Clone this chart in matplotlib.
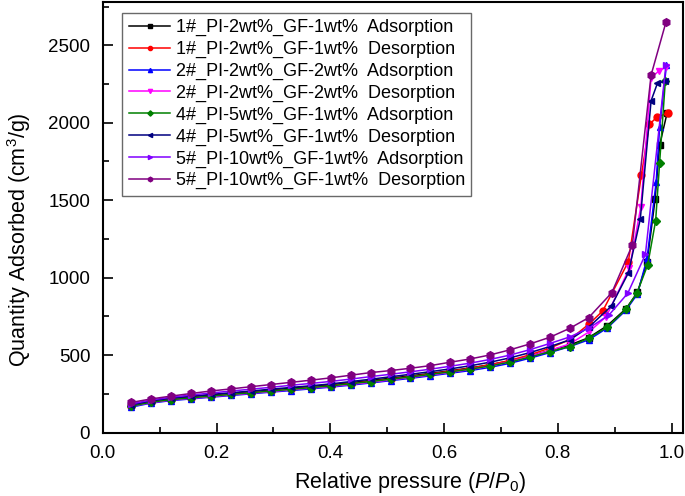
import matplotlib
matplotlib.use("Agg")
import matplotlib.pyplot as plt
from matplotlib.ticker import MultipleLocator

plt.rcParams['font.family'] = ['Liberation Sans', 'DejaVu Sans']
plt.rcParams['mathtext.fontset'] = 'custom'
plt.rcParams['mathtext.rm'] = 'Liberation Sans'
plt.rcParams['mathtext.it'] = 'Liberation Sans:italic'

# common low-pressure grid
x_low = [0.05, 0.085, 0.12, 0.155, 0.19, 0.226, 0.261, 0.296, 0.331, 0.366, 0.401, 0.436,
         0.471, 0.506, 0.541, 0.576, 0.611, 0.646, 0.681, 0.716, 0.751, 0.786, 0.821]

# 1# adsorption (black)
s1a_x = x_low + [0.854, 0.887, 0.920, 0.940, 0.957, 0.971, 0.979, 0.992]
s1a_y = [176, 202, 219, 231, 242, 253, 264, 275, 286, 297, 308, 322, 336, 351, 366, 382, 399, 417,
         438, 463, 494, 530, 565, 612, 690, 800, 905, 1100, 1506, 1856, 2061]
# 1# desorption (red)
s1d_x = x_low + [0.855, 0.879, 0.924, 0.947, 0.961, 0.975, 0.994]
s1d_y = [172, 197, 214, 225, 236, 247, 258, 269, 280, 291, 302, 316, 330, 345, 361, 378, 396, 415,
         438, 466, 502, 545, 600, 701, 785, 1103, 1663, 1990, 2039, 2061]
# 2# adsorption (blue)
s2a_x = x_low + [0.854, 0.887, 0.920, 0.940, 0.957, 0.973, 0.979, 0.991]
s2a_y = [164, 190, 206, 217, 228, 239, 250, 261, 271, 282, 293, 306, 320, 335, 350, 366, 383, 400,
         421, 447, 480, 516, 555, 598, 675, 790, 895, 1125, 1620, 1974, 2372]
# 2# desorption (magenta)
s2d_x = x_low + [0.855, 0.885, 0.926, 0.946, 0.964, 0.978, 0.991]
s2d_y = [170, 193, 210, 221, 232, 243, 254, 265, 276, 287, 298, 311, 325, 340, 356, 372, 389, 407,
         430, 458, 492, 530, 572, 650, 748, 1061, 1458, 2290, 2336, 2361]
# 4# adsorption (green)
s4a_x = x_low + [0.854, 0.887, 0.920, 0.939, 0.958, 0.972, 0.979, 0.989]
s4a_y = [170, 196, 212, 224, 235, 246, 257, 268, 279, 290, 301, 315, 329, 344, 359, 375, 392, 409,
         430, 455, 487, 522, 555, 609, 680, 796, 899, 1082, 1368, 1742, 2269]
# 4# desorption (navy)
s4d_x = x_low + [0.855, 0.894, 0.924, 0.945, 0.964, 0.975, 0.989]
s4d_y = [178, 205, 222, 234, 246, 257, 268, 280, 291, 302, 314, 329, 344, 360, 376, 393, 411, 431,
         454, 482, 516, 555, 598, 682, 816, 1030, 1377, 2142, 2254, 2269]
# 5# adsorption (violet)
s5a_x = x_low + [0.855, 0.890, 0.923, 0.954, 0.990]
s5a_y = [185, 210, 228, 242, 255, 268, 280, 292, 305, 317, 330, 345, 361, 376, 392, 409, 428, 448,
         472, 500, 535, 575, 617, 675, 759, 899, 1150, 2370]
# 5# desorption (purple)
s5d_x = x_low + [0.854, 0.895, 0.931, 0.964, 0.990]
s5d_y = [194, 217, 235, 252, 268, 282, 296, 310, 324, 338, 353, 370, 387, 400, 415, 432, 454, 475,
         501, 534, 572, 615, 673, 741, 903, 1211, 2308, 2648]

labels = ["1#_PI-2wt%_GF-1wt%  Adsorption", "1#_PI-2wt%_GF-1wt%  Desorption",
          "2#_PI-2wt%_GF-2wt%  Adsorption", "2#_PI-2wt%_GF-2wt%  Desorption",
          "4#_PI-5wt%_GF-1wt%  Adsorption", "4#_PI-5wt%_GF-1wt%  Desorption",
          "5#_PI-10wt%_GF-1wt%  Adsorption", "5#_PI-10wt%_GF-1wt%  Desorption"]

series = [(s1a_x, s1a_y), (s1d_x, s1d_y), (s2a_x, s2a_y), (s2d_x, s2d_y),
          (s4a_x, s4a_y), (s4d_x, s4d_y), (s5a_x, s5a_y), (s5d_x, s5d_y)]
colors = ['#000000', '#FF0000', '#0000FF', '#FF00FF', '#008000', '#000080', '#8000FF', '#800080']
markers = ['s', 'o', '^', 'v', 'D', '<', '>', 'h']
msizes = [4.5, 5, 5, 5, 4.5, 5, 5, 5.5]

fig = plt.figure(figsize=(6.85, 4.96), dpi=100)
ax = fig.add_axes([0.150, 0.128, 0.847, 0.868])

for (xs, ys), c, m, ms, lab in zip(series, colors, markers, msizes, labels):
    ax.plot(xs, ys, color=c, marker=m, markersize=ms, linewidth=1.1, label=lab)

ax.set_xlim(0, 1.02)
ax.set_ylim(0, 2780)
ax.xaxis.set_major_locator(MultipleLocator(0.2))
ax.xaxis.set_minor_locator(MultipleLocator(0.1))
ax.yaxis.set_major_locator(MultipleLocator(500))
ax.yaxis.set_minor_locator(MultipleLocator(250))
ax.xaxis.set_major_formatter(matplotlib.ticker.FormatStrFormatter('%.1f'))
ax.tick_params(which='both', direction='in', top=False, right=False, labelsize=13.5, width=1.2)
ax.tick_params(which='major', length=7)
ax.tick_params(which='minor', length=4)
ax.tick_params(axis='y', which='major', pad=9)
ax.tick_params(axis='x', which='major', pad=9)
for sp in ax.spines.values():
    sp.set_linewidth(1.5)

ax.set_xlabel(r'Relative pressure ($\it{P/P_0}$)', fontsize=15.5)
ax.set_ylabel(r'Quantity Adsorbed (cm$^3$/g)', fontsize=15.5)
ax.xaxis.set_label_coords(0.529, -0.088)
ax.yaxis.set_label_coords(-0.12, 0.447)

leg = ax.legend(loc='upper left', bbox_to_anchor=(0.034, 0.975), fontsize=13, frameon=True,
                fancybox=False, edgecolor='#444444', labelspacing=0.26, handlelength=2.3,
                handletextpad=0.3, borderpad=0.35, markerscale=0.6, borderaxespad=0)
leg.get_frame().set_linewidth(1.0)

fig.savefig('out.png', dpi=100)
